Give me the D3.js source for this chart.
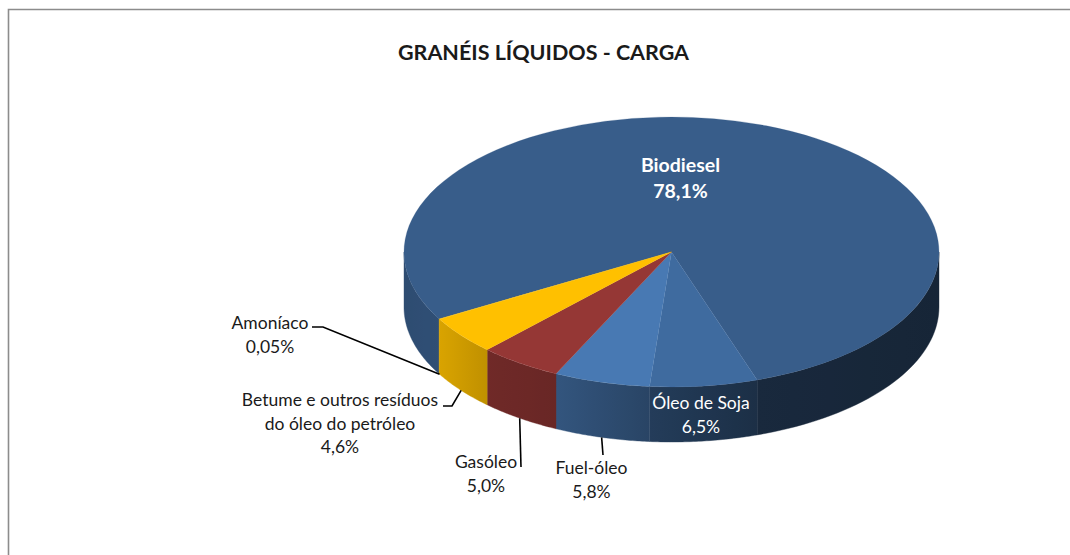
<!DOCTYPE html>
<html>
<head>
<meta charset="utf-8">
<script src="https://cdn.jsdelivr.net/npm/d3@7"></script>
<style>
    html, body { margin: 0; padding: 0; background: #fff; }
    svg { display: block; }
    text { font-family: Lato, "Open Sans", sans-serif; fill: #1a1a1a; }
</style>
</head>
<body>
<div id="chart"></div>
<script>
const title = "GRANÉIS LÍQUIDOS - CARGA";
const categories = ["Biodiesel", "Óleo de Soja", "Fuel-óleo", "Gasóleo", "Betume e outros resíduos|do óleo do petróleo", "Amoníaco"];
const shares = [78.1, 6.5, 5.8, 5.0, 4.6, 0.05];
const shareLabels = ["78,1%", "6,5%", "5,8%", "5,0%", "4,6%", "0,05%"];
const topColors = ["#385d8a", "#3f6b9f", "#4879b3", "#953735", "#ffc000", "#ffc000"];

const width = 1070, height = 555;
const cx = 671.5, cy = 252, rx = 267.5, ry = 135, depth = 55;
const rad = Math.PI / 180;

// label placement, by slice index: text centre, first baseline, where the leader stops
const labelLayout = [
    {x: 680.5, y: 172, bold: true, fill: "#fff", size: 19.5},
    {x: 701, y: 409, fill: "#fff"},
    {x: 591.5, y: 474, leader: [[603, 455]]},
    {x: 486, y: 468, leader: [[521, 467]]},
    {x: 340, y: 406, leader: [[452, 406], [443, 406]]},
    {x: 270, y: 329, leader: [[323, 327], [312, 327]]}
];

const svg = d3.select("#chart").append("svg")
    .attr("width", width)
    .attr("height", height);

const defs = svg.append("defs");

// frame, only top and left survive the crop
svg.append("path")
    .attr("d", `M8.5,${height}V9.5H${width}`)
    .attr("fill", "none")
    .attr("stroke", "#8c8c8c")
    .attr("stroke-width", 1.6);

svg.append("text")
    .attr("x", 543.5)
    .attr("y", 60)
    .attr("text-anchor", "middle")
    .style("font-size", "21.5px")
    .style("font-weight", 700)
    .text(title);

const pie = d3.pie().sort(null).value(d => d)
    .startAngle(-119.7 * rad)
    .endAngle(240.48 * rad);
const slices = pie(shares);

// how dark the wall gets going round the front, from the right edge to the left edge
const wallShade = d3.scaleLinear()
    .domain([90, 161, 184, 205, 223, 240, 270])
    .range([0.40, 0.44, 0.56, 0.70, 0.75, 0.85, 0.82]);

const ellipseX = a => cx + rx * Math.sin(a);
const ellipseY = a => cy - ry * Math.cos(a);

// parts of a slice which face the viewer
function frontPieces(s) {
    const pieces = [];
    [-360, 0].forEach(k => {
        const a0 = Math.max(s.startAngle, (90 + k) * rad);
        const a1 = Math.min(s.endAngle, (270 + k) * rad);
        if (a1 > a0) pieces.push([a0, a1, k]);
    });
    return pieces;
}

const wallLine = d3.line();
const walls = svg.append("g");
slices.forEach((s, i) => {
    frontPieces(s).forEach(([a0, a1, k], j) => {
        const steps = d3.range(0, 41).map(n => a0 + (a1 - a0) * n / 40);
        const pts = steps.map(a => [ellipseX(a), ellipseY(a)])
            .concat(steps.slice().reverse().map(a => [ellipseX(a), ellipseY(a) + depth]));

        const id = `wall${i}-${j}`;
        const base = d3.interpolateRgb("#000", topColors[i]);
        const grad = defs.append("linearGradient")
            .attr("id", id)
            .attr("gradientUnits", "userSpaceOnUse")
            .attr("x1", ellipseX(a0)).attr("x2", ellipseX(a1))
            .attr("y1", 0).attr("y2", 0);
        d3.range(0, 6).forEach(n => {
            const a = (a0 + (a1 - a0) * n / 5) / rad - k;
            grad.append("stop")
                .attr("offset", n / 5)
                .attr("stop-color", base(wallShade(a)));
        });

        walls.append("path")
            .attr("d", wallLine(pts) + "Z")
            .attr("fill", `url(#${id})`)
            .attr("stroke", `url(#${id})`)
            .attr("stroke-width", 0.4);
    });
});

// top face, a flat pie squashed into the ellipse
const arc = d3.arc().innerRadius(0).outerRadius(rx);
svg.append("g")
    .attr("transform", `translate(${cx},${cy}) scale(1,${ry / rx})`)
    .selectAll("path")
    .data(slices)
    .join("path")
    .attr("d", arc)
    .attr("fill", (d, i) => topColors[i])
    .attr("stroke", (d, i) => topColors[i])
    .attr("stroke-width", 0.3);

// leaders start under the wall at the middle of the slice
const leaders = svg.append("g")
    .attr("fill", "none")
    .attr("stroke", "#000")
    .attr("stroke-width", 1.6);
slices.forEach((s, i) => {
    const l = labelLayout[i];
    if (!l.leader) return;
    const mid = i === 5 ? s.startAngle : (s.startAngle + s.endAngle) / 2;
    leaders.append("path")
        .attr("d", wallLine([[ellipseX(mid), ellipseY(mid) + depth]].concat(l.leader)));
});

const labels = svg.append("g").attr("text-anchor", "middle");
categories.forEach((c, i) => {
    const l = labelLayout[i];
    const lines = c.split("|").concat(shareLabels[i]);
    const lineHeight = l.bold ? 26 : 23.5;
    lines.forEach((t, n) => {
        labels.append("text")
            .attr("x", l.x)
            .attr("y", l.y + n * lineHeight)
            .style("font-size", (l.size || 17.5) + "px")
            .style("font-weight", l.bold ? 700 : 400)
            .style("fill", l.fill || null)
            .text(t);
    });
});
</script>
</body>
</html>
